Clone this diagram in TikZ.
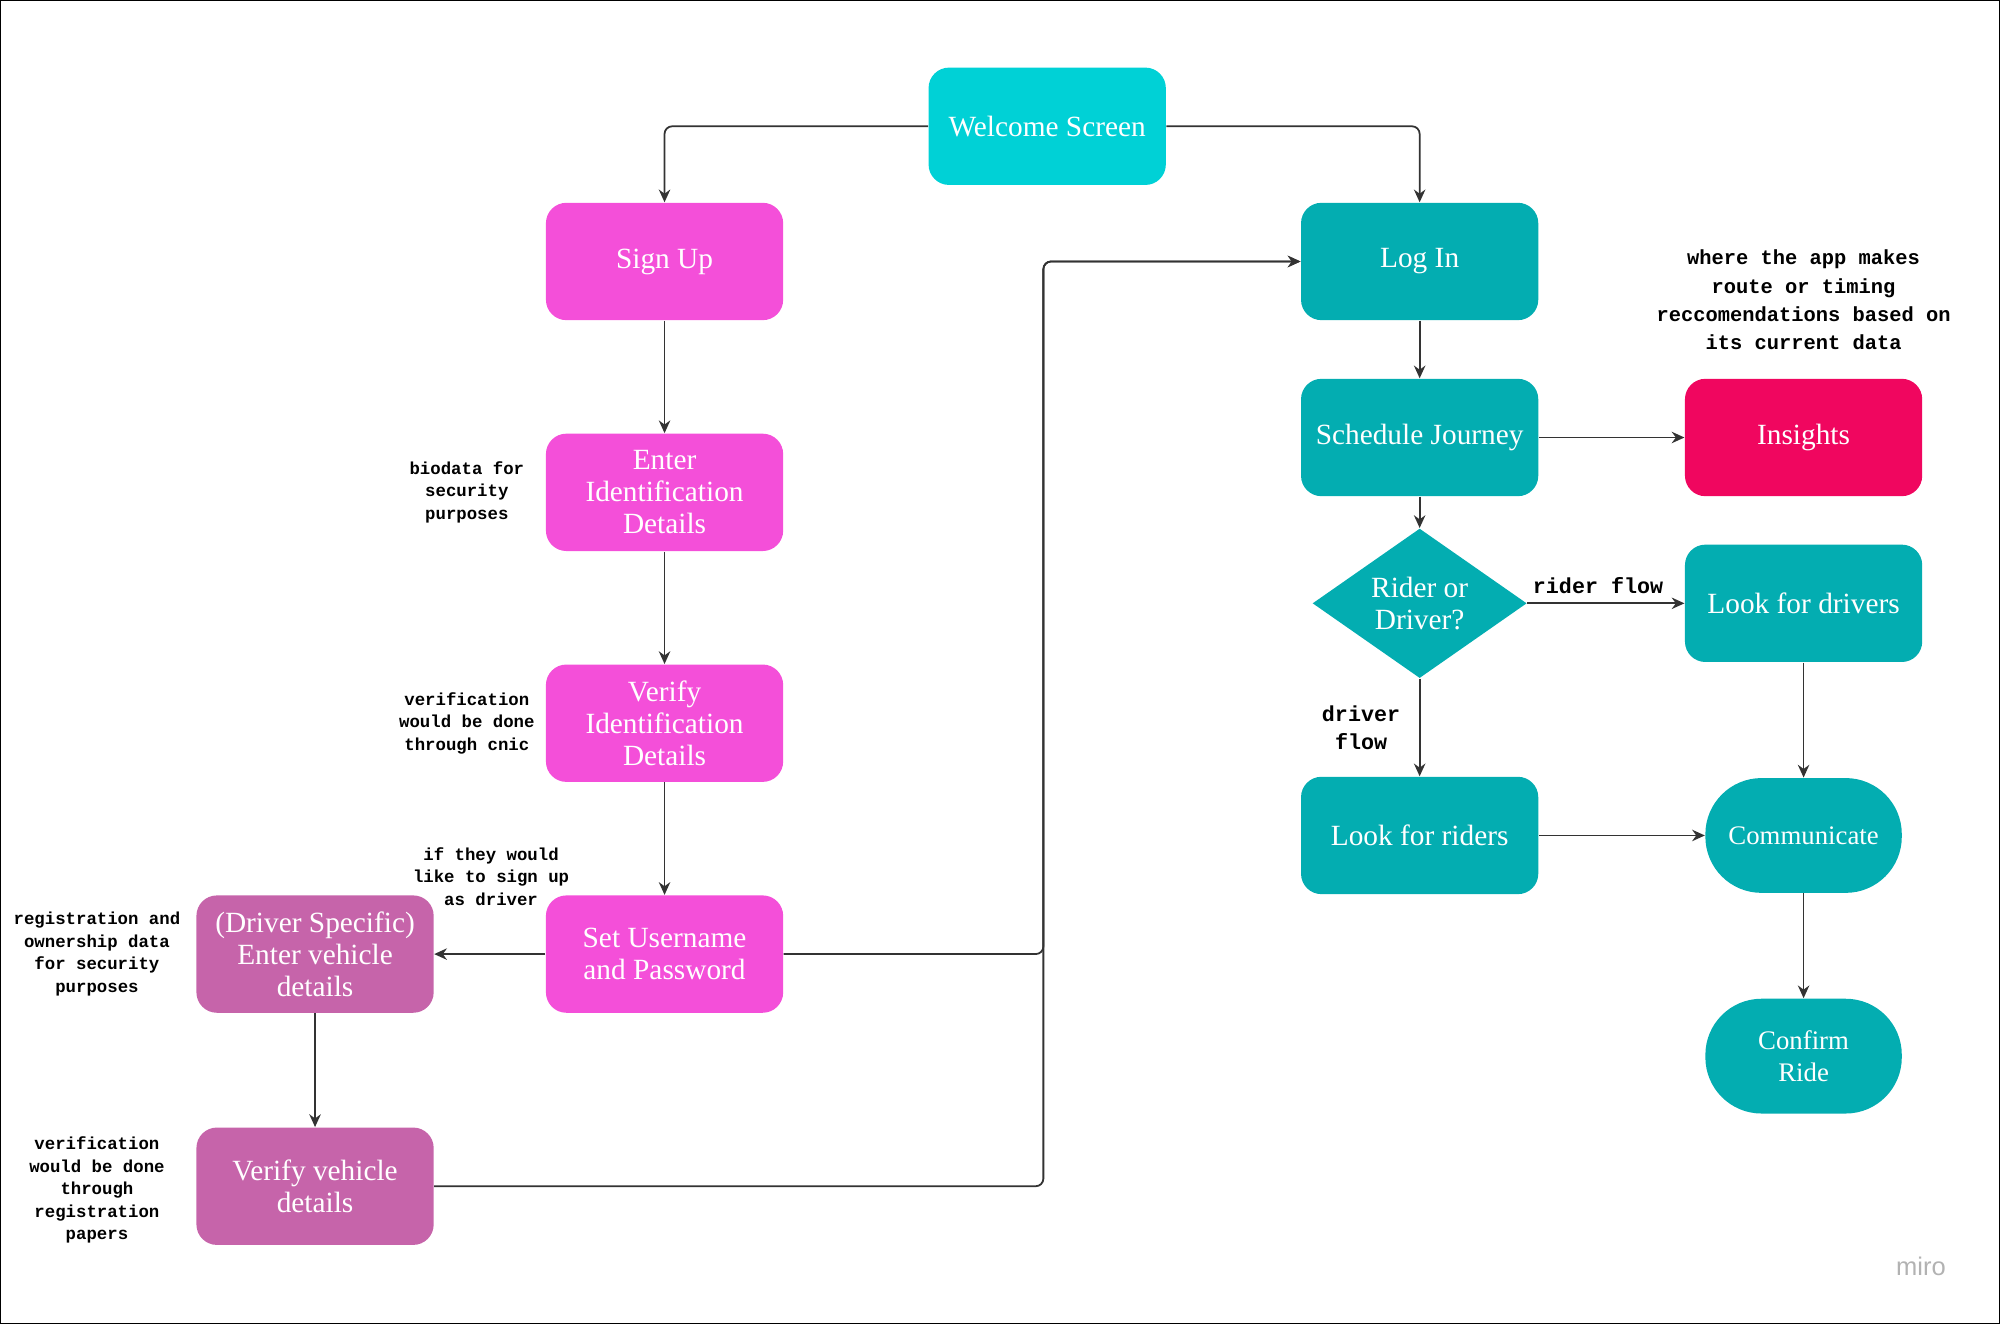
\documentclass[tikz,border=0pt]{standalone}
\usepackage{fontspec}
\setmainfont{Liberation Serif}
\newfontfamily\monof{Liberation Mono}
\newfontfamily\sansf{Liberation Sans}
\usetikzlibrary{shapes.geometric,arrows.meta}
\definecolor{cyanc}{HTML}{00D1D6}
\definecolor{pinkc}{HTML}{F44FD9}
\definecolor{purpc}{HTML}{C664AA}
\definecolor{tealc}{HTML}{03ADB1}
\definecolor{redc}{HTML}{F0065F}
\definecolor{linec}{HTML}{333333}
\begin{document}
\begin{tikzpicture}[x=0.5pt,y=-0.5pt,
 box/.style={rectangle,rounded corners=8pt,minimum width=93pt,minimum height=46pt,text=white,font=\fontsize{11.5}{12.5}\selectfont,align=center,inner sep=1pt},
 pill/.style={rectangle,rounded corners=22pt,minimum width=77pt,minimum height=45pt,text=white,font=\fontsize{10.5}{12.5}\selectfont,align=center,inner sep=1pt},
 ar/.style={draw=linec,line width=0.7pt,-{Stealth[length=5pt,width=4.5pt]},rounded corners=3pt},
 note/.style={font=\monof\bfseries\fontsize{6.8}{8.8}\selectfont,align=center},
 bignote/.style={font=\monof\bfseries\fontsize{8}{11}\selectfont,align=center}]
\useasboundingbox (0,0) rectangle (1568,1038);
\draw[line width=1pt] (0,0) rectangle (1568,1038);
\node[box,fill=cyanc] (wel) at (821,99) {Welcome Screen};
\node[box,fill=pinkc] (su) at (521,205) {Sign Up};
\node[box,fill=pinkc] (ei) at (521,386) {Enter\\Identification\\Details};
\node[box,fill=pinkc] (vi) at (521,567) {Verify\\Identification\\Details};
\node[box,fill=pinkc] (sp) at (521,748) {Set Username\\and Password};
\node[box,fill=purpc] (dv) at (247,748) {(Driver Specific)\\Enter vehicle\\details};
\node[box,fill=purpc] (vv) at (247,930) {Verify vehicle\\details};
\node[box,fill=tealc] (li) at (1113,205) {Log In};
\node[box,fill=tealc] (sj) at (1113,343) {Schedule Journey};
\node[box,fill=redc] (ins) at (1414,343) {Insights};
\node[diamond,fill=tealc,text=white,minimum width=84pt,minimum height=55pt,inner sep=0pt,align=center,font=\fontsize{11.5}{12.5}\selectfont] (rd) at (1113,473) {Rider or\\Driver?};
\node[box,fill=tealc] (ld) at (1414,473) {Look for drivers};
\node[box,fill=tealc] (lr) at (1113,655) {Look for riders};
\node[pill,fill=tealc] (co) at (1414,655) {Communicate};
\node[pill,fill=tealc] (cr) at (1414,828) {Confirm\\Ride};
\coordinate (j) at (818,205);
\draw[ar] (wel.west) -| (su.north);
\draw[ar] (wel.east) -| (li.north);
\draw[ar] (su) -- (ei);
\draw[ar] (ei) -- (vi);
\draw[ar] (vi) -- (sp);
\draw[ar] (sp) -- (dv);
\draw[ar] (dv) -- (vv);
\draw[ar] (sp.east) -| (j) -- (li.west);
\draw[ar] (vv.east) -| (j) -- (li.west);
\draw[ar] (li) -- (sj);
\draw[ar] (sj) -- (rd);
\draw[ar] (sj) -- (ins);
\draw[ar] (rd) -- node[above,note,font=\monof\bfseries\fontsize{8.5}{10}\selectfont,pos=0.45]{rider flow} (ld);
\draw[ar] (rd) -- node[left,note,font=\monof\bfseries\fontsize{8.5}{11}\selectfont,xshift=-4pt]{driver\\flow} (lr);
\draw[ar] (ld) -- (co);
\draw[ar] (lr) -- (co);
\draw[ar] (co) -- (cr);
\node[bignote] (n1) at (1414,235) {where the app makes\\route or timing\\reccomendations based on\\its current data};
\node[note] (n2) at (366,386) {biodata for\\security\\purposes};
\node[note] (n3) at (366,567) {verification\\would be done\\through cnic};
\node[note] (n4) at (385,687) {if they would\\like to sign up\\as driver};
\node[note] (n5) at (76,748) {registration and\\ownership data\\for security\\purposes};
\node[note] (n6) at (76,933) {verification\\would be done\\through\\registration\\papers};
\node[text=gray!60,font=\sansf\fontsize{10}{12}\selectfont] (mi) at (1506,993) {miro};
\end{tikzpicture}
\end{document}
